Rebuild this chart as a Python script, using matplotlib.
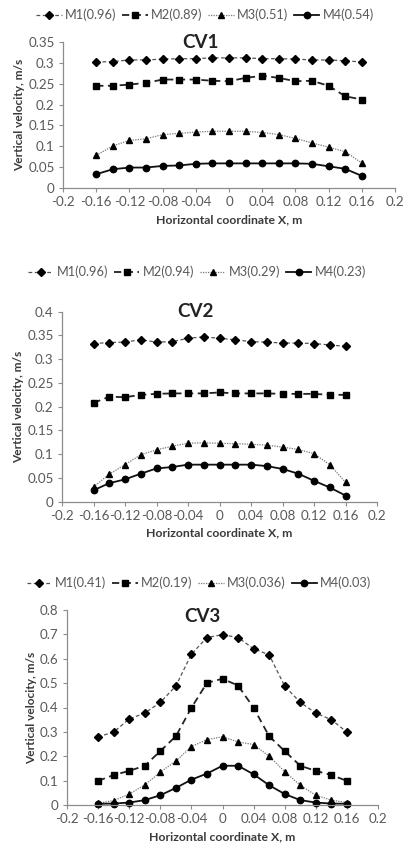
import matplotlib
matplotlib.use("Agg")
import matplotlib.pyplot as plt

plt.rcParams['font.family'] = ['Lato', 'DejaVu Sans']

x = [-0.16, -0.14, -0.12, -0.10, -0.08, -0.06, -0.04, -0.02, 0.0,
     0.02, 0.04, 0.06, 0.08, 0.10, 0.12, 0.14, 0.16]

# CV1
cv1_m1 = [0.302, 0.303, 0.307, 0.307, 0.309, 0.310, 0.310, 0.312, 0.312,
          0.312, 0.310, 0.310, 0.309, 0.307, 0.307, 0.305, 0.302]
cv1_m2 = [0.245, 0.245, 0.248, 0.252, 0.260, 0.260, 0.260, 0.257, 0.256,
          0.264, 0.269, 0.264, 0.256, 0.257, 0.245, 0.220, 0.212]
cv1_m3 = [0.078, 0.101, 0.114, 0.118, 0.128, 0.131, 0.134, 0.136, 0.136,
          0.136, 0.133, 0.128, 0.119, 0.108, 0.098, 0.087, 0.060]
cv1_m4 = [0.033, 0.045, 0.049, 0.049, 0.053, 0.054, 0.058, 0.059, 0.059,
          0.059, 0.059, 0.059, 0.059, 0.058, 0.052, 0.046, 0.029]
cv1_labels = ['M1(0.96)', 'M2(0.89)', 'M3(0.51)', 'M4(0.54)']

# CV2
cv2_m1 = [0.333, 0.335, 0.336, 0.341, 0.336, 0.337, 0.344, 0.347, 0.344,
          0.341, 0.337, 0.336, 0.334, 0.334, 0.333, 0.330, 0.327]
cv2_m2 = [0.208, 0.221, 0.220, 0.225, 0.227, 0.228, 0.228, 0.228, 0.230,
          0.228, 0.228, 0.228, 0.227, 0.227, 0.227, 0.225, 0.225]
cv2_m3 = [0.031, 0.058, 0.078, 0.099, 0.109, 0.117, 0.123, 0.124, 0.123,
          0.122, 0.121, 0.119, 0.115, 0.110, 0.101, 0.078, 0.041]
cv2_m4 = [0.024, 0.039, 0.047, 0.059, 0.070, 0.073, 0.078, 0.078, 0.078,
          0.078, 0.078, 0.075, 0.069, 0.059, 0.044, 0.030, 0.013]
cv2_labels = ['M1(0.96)', 'M2(0.94)', 'M3(0.29)', 'M4(0.23)']

# CV3
cv3_m1 = [0.280, 0.299, 0.353, 0.377, 0.421, 0.488, 0.619, 0.687, 0.699,
          0.687, 0.641, 0.616, 0.488, 0.421, 0.377, 0.350, 0.299]
cv3_m2 = [0.099, 0.123, 0.140, 0.161, 0.221, 0.282, 0.399, 0.501, 0.518,
          0.490, 0.399, 0.282, 0.221, 0.161, 0.140, 0.123, 0.099]
cv3_m3 = [0.007, 0.018, 0.045, 0.082, 0.135, 0.180, 0.240, 0.268, 0.280,
          0.259, 0.248, 0.200, 0.137, 0.081, 0.040, 0.020, 0.010]
cv3_m4 = [0.005, 0.006, 0.010, 0.020, 0.040, 0.070, 0.104, 0.129, 0.161,
          0.161, 0.126, 0.081, 0.045, 0.020, 0.010, 0.006, 0.005]
cv3_labels = ['M1(0.41)', 'M2(0.19)', 'M3(0.036)', 'M4(0.03)']

xticks = [-0.2, -0.16, -0.12, -0.08, -0.04, 0, 0.04, 0.08, 0.12, 0.16, 0.2]
xticklabels = ['-0.2', '-0.16', '-0.12', '-0.08', '-0.04', '0', '0.04', '0.08', '0.12', '0.16', '0.2']

W, H = 403, 850
fig = plt.figure(figsize=(W / 100, H / 100), dpi=100)

styles = [
    dict(color='#555555', linestyle=(0, (3, 2)), linewidth=0.9, marker='D', markersize=3.8,
         markerfacecolor='black', markeredgecolor='black'),
    dict(color='#222222', linestyle=(0, (4, 2.5)), linewidth=1.3, marker='s', markersize=4.4,
         markerfacecolor='black', markeredgecolor='black'),
    dict(color='#777777', linestyle=(0, (1, 1)), linewidth=0.9, marker='^', markersize=4.2,
         markerfacecolor='black', markeredgecolor='black'),
    dict(color='#111111', linestyle='-', linewidth=1.3, marker='o', markersize=4.6,
         markerfacecolor='black', markeredgecolor='black'),
]

grey = '#595959'


def fx(px):
    return px / W


def fy(py):
    return 1 - py / H


def panel(box, series, labels, ymax, ystep, yfmt, title, title_xy, legend_y, legend_x):
    x0, x1, ytop, ybot = box
    ax = fig.add_axes([fx(x0), fy(ybot), fx(x1) - fx(x0), (ybot - ytop) / H])
    handles = []
    for s, st, lab in zip(series, styles, labels):
        h, = ax.plot(x, s, label=lab, clip_on=False, **st)
        handles.append(h)
    ax.set_xlim(-0.2, 0.2)
    ax.set_ylim(0, ymax)
    ax.set_xticks(xticks)
    ax.set_xticklabels(xticklabels)
    n = int(round(ymax / ystep))
    yt = [i * ystep for i in range(n + 1)]
    ax.set_yticks(yt)
    ax.set_yticklabels([yfmt(v) for v in yt])
    for side in ['top', 'right']:
        ax.spines[side].set_visible(False)
    for side in ['left', 'bottom']:
        ax.spines[side].set_color('#8c8c8c')
        ax.spines[side].set_linewidth(0.9)
    ax.tick_params(axis='both', colors='#8c8c8c', labelcolor=grey, labelsize=9.6,
                   length=3, width=0.8, direction='out', pad=3)
    ax.set_xlabel('Horizontal coordinate X, m', fontsize=8.8, fontweight='bold',
                  color='#3a3a3a', labelpad=4)
    ax.set_ylabel('Vertical velocity, m/s', fontsize=8.6, fontweight='bold',
                  color='#3a3a3a', labelpad=2)
    ax.patch.set_alpha(0)
    fig.text(fx(title_xy[0]), fy(title_xy[1]), title, fontsize=13.5, fontweight='bold',
             ha='center', va='center', color='#222222')
    fig.legend(handles=handles, labels=labels, loc='center',
               bbox_to_anchor=(fx(legend_x), fy(legend_y)), ncol=4, frameon=False,
               fontsize=9.2, handlelength=2.0, handletextpad=0.25, columnspacing=0.45,
               labelcolor=grey, borderpad=0.1)
    return ax


ax1 = panel((63, 395, 42, 188), [cv1_m1, cv1_m2, cv1_m3, cv1_m4], cv1_labels,
            0.35, 0.05, lambda v: ('%g' % round(v, 2)), 'CV1', (200, 43), 15, 205)
ax2 = panel((62, 377, 311.7, 501.7), [cv2_m1, cv2_m2, cv2_m3, cv2_m4], cv2_labels,
            0.4, 0.05, lambda v: ('%g' % round(v, 2)), 'CV2', (195, 311), 272, 197)
ax3 = panel((67, 378, 610, 805), [cv3_m1, cv3_m2, cv3_m3, cv3_m4], cv3_labels,
            0.8, 0.1, lambda v: ('%g' % round(v, 1)), 'CV3', (202, 617), 583, 199)

fig.savefig('out.png', dpi=100)
